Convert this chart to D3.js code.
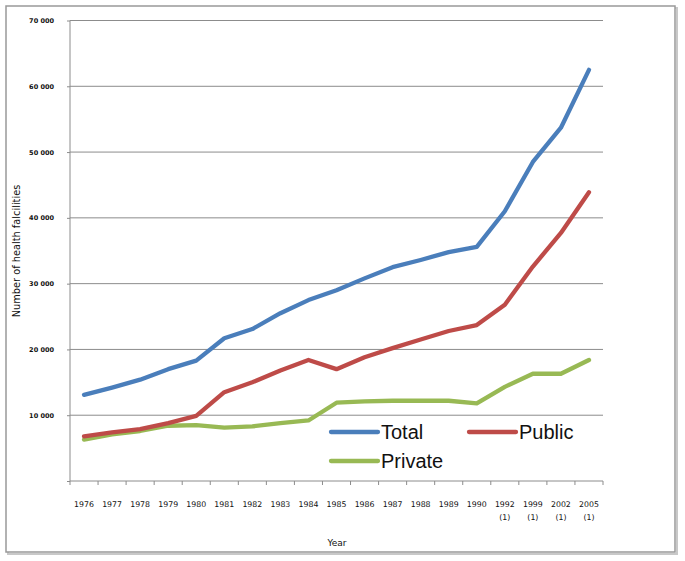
<!DOCTYPE html>
<html>
<head>
<meta charset="utf-8">
<script src="https://cdn.jsdelivr.net/npm/d3@7"></script>
<style>
  body { margin: 0; background: #fff; }
  svg { display: block; }
</style>
</head>
<body>
<div id="chart-area"></div>
<script>
// data
const years = ["1976","1977","1978","1979","1980","1981","1982","1983","1984","1985",
               "1986","1987","1988","1989","1990","1992 (1)","1999 (1)","2002 (1)","2005 (1)"]
const total   = [13100,14200,15400,17000,18300,21700,23100,25500,27500,29000,
                 30800,32500,33600,34800,35600,41000,48500,53700,62500]
const publicS = [6800,7400,7900,8800,9900,13500,15000,16800,18400,17000,
                 18800,20200,21500,22800,23700,26800,32600,37700,43900]
const privateS = [6300,7100,7600,8400,8500,8100,8300,8800,9200,11900,
                  12100,12200,12200,12200,11800,14300,16300,16300,18400]
const yTicks = [0,10000,20000,30000,40000,50000,60000,70000]

const series = [
  { name: "Total", values: total, color: "#4a7ebb" },
  { name: "Public", values: publicS, color: "#be4b48" },
  { name: "Private", values: privateS, color: "#98b954" }
]

const W = 685, H = 561
const svg = d3.select("#chart-area").append("svg")
    .attr("width", W)
    .attr("height", H)

// outer frame with a light shadow on right/bottom
svg.append("rect")
    .attr("x", 8).attr("y", 8).attr("width", 669).attr("height", 546)
    .attr("fill", "none").attr("stroke", "#c8c8c8").attr("stroke-width", 2)
svg.append("rect")
    .attr("x", 6).attr("y", 6).attr("width", 669).attr("height", 546)
    .attr("fill", "#fff").attr("stroke", "#999").attr("stroke-width", 1.5)

const x0 = 70, x1 = 603, yBottom = 481, yTop = 20.5

const x = d3.scaleBand()
    .domain(years)
    .range([x0, x1])

const y = d3.scaleLinear()
    .domain([0, 70000])
    .range([yBottom, yTop])

const g = svg.append("g")

// gridlines
g.append("g")
    .selectAll("line")
    .data(yTicks.filter(d => d > 0))
    .enter().append("line")
        .attr("x1", x0).attr("x2", x1)
        .attr("y1", d => y(d)).attr("y2", d => y(d))
        .attr("stroke", "#8c8c8c").attr("stroke-width", 1)

// y axis
const yAxisCall = d3.axisLeft(y)
    .tickValues(yTicks)
    .tickSize(3)
    .tickFormat(d => d === 0 ? "" : d3.format(",")(d).replace(",", " "))
const yAxis = g.append("g")
    .attr("class", "y-axis")
    .attr("transform", "translate(" + x0 + ",0)")
    .call(yAxisCall)
yAxis.select(".domain").attr("stroke", "#8c8c8c").attr("d", "M0," + yBottom + "V" + yTop)
yAxis.selectAll(".tick line").attr("stroke", "#8c8c8c")
yAxis.selectAll("text")
    .attr("x", -16)
    .attr("font-family", "DejaVu Sans")
    .attr("font-weight", "bold")
    .attr("font-size", "6.5px")
    .attr("fill", "#111")

// x axis: ticks between categories, Excel style
const xa = g.append("g").attr("class", "x axis")
xa.append("line")
    .attr("x1", x0).attr("x2", x1)
    .attr("y1", yBottom).attr("y2", yBottom)
    .attr("stroke", "#8c8c8c")
xa.selectAll(".tk")
    .data(years.map(d => x(d)).concat([x1]))
    .enter().append("line")
        .attr("class", "tk")
        .attr("x1", d => d).attr("x2", d => d)
        .attr("y1", yBottom).attr("y2", yBottom + 4)
        .attr("stroke", "#8c8c8c")
const xl = xa.selectAll(".lbl")
    .data(years)
    .enter().append("text")
        .attr("class", "lbl")
        .attr("x", d => x(d) + x.bandwidth() / 2)
        .attr("y", 507)
        .attr("text-anchor", "middle")
        .attr("font-family", "DejaVu Sans")
        .attr("font-size", "7.8px")
        .attr("fill", "#111")
xl.each(function(d) {
    const parts = d.split(" ")
    const t = d3.select(this)
    t.append("tspan").attr("x", x(d) + x.bandwidth() / 2).text(parts[0])
    if (parts[1]) t.append("tspan").attr("x", x(d) + x.bandwidth() / 2).attr("dy", 13).text(parts[1])
})

// axis titles
svg.append("text")
    .attr("x", 337).attr("y", 546)
    .attr("text-anchor", "middle")
    .attr("font-family", "DejaVu Sans")
    .attr("font-size", "9px")
    .attr("fill", "#111")
    .text("Year")

svg.append("text")
    .attr("transform", "translate(20,251) rotate(-90)")
    .attr("text-anchor", "middle")
    .attr("font-family", "DejaVu Sans")
    .attr("font-size", "9.8px")
    .attr("fill", "#111")
    .text("Number of health falcilities")

// lines
const line = d3.line()
    .x((d, i) => x(years[i]) + x.bandwidth() / 2)
    .y(d => y(d))

g.selectAll(".series")
    .data(series.slice().reverse())
    .enter().append("path")
        .attr("class", "series")
        .attr("d", d => line(d.values))
        .attr("fill", "none")
        .attr("stroke", d => d.color)
        .attr("stroke-width", 4.3)
        .attr("stroke-linejoin", "round")
        .attr("stroke-linecap", "round")

// legend
const legendPos = [[331, 432], [469, 432], [331, 461]]
const lg = svg.append("g").selectAll("g")
    .data(series)
    .enter().append("g")
        .attr("transform", (d, i) => "translate(" + legendPos[i][0] + "," + legendPos[i][1] + ")")
lg.append("line")
    .attr("x1", 0).attr("x2", 47)
    .attr("stroke", d => d.color)
    .attr("stroke-width", 4.3)
    .attr("stroke-linecap", "round")
lg.append("text")
    .attr("x", 50).attr("y", 7)
    .attr("font-family", "Liberation Sans")
    .attr("font-size", "20px")
    .attr("fill", "#111")
    .text(d => d.name)
</script>
</body>
</html>
